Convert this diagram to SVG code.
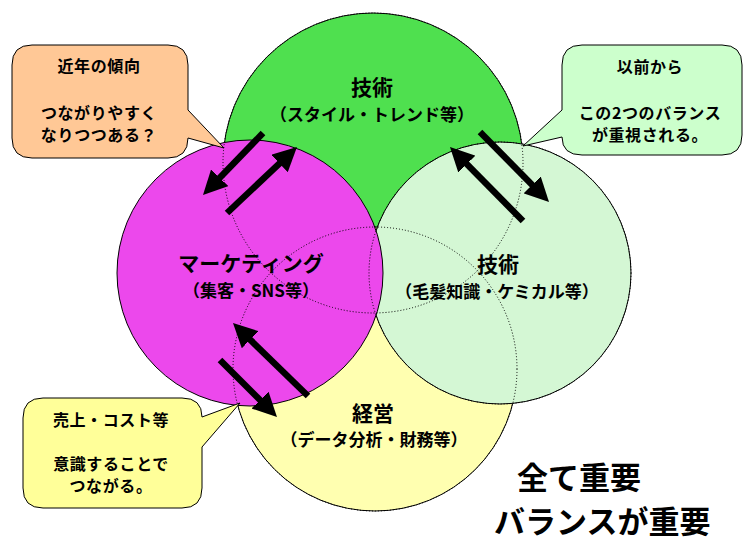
<svg xmlns="http://www.w3.org/2000/svg" width="751" height="542" viewBox="0 0 751 542">
<style>
.c{stroke:#000;stroke-width:1}
.dot{fill:none;stroke:#000;stroke-width:1;stroke-dasharray:1 2}
.t{font-family:"Noto Sans CJK JP","Noto Sans CJK SC",sans-serif;font-weight:bold;fill:#000;text-anchor:middle}
.h{font-size:21px}
.s{font-size:17px}
.b{font-size:16px;letter-spacing:0.6px}
.big{font-size:31px;text-anchor:start}
.co{stroke:#000;stroke-width:1}
.ar{stroke:#000;stroke-width:6.5;fill:none;marker-end:url(#ah)}
</style>
<defs>
<marker id="ah" viewBox="0 0 10 10" markerWidth="24" markerHeight="24" markerUnits="userSpaceOnUse" refX="4" refY="5" orient="auto">
<path d="M0,0 L10,5 L0,10 Z" fill="#000"/>
</marker>
</defs>
<rect width="751" height="542" fill="#fff"/>
<g id="shapes">
<circle id="c-green" class="c" cx="373" cy="163" r="150" fill="#4fe04f"/>
<circle id="c-yellow" class="c" cx="375" cy="369" r="142" fill="#ffffb0"/>
<circle id="c-lightgreen" class="c" cx="500" cy="273" r="131" fill="#d4f7d4"/>
<circle id="c-magenta" class="c" cx="250" cy="273" r="133" fill="#ec48ec"/>
<circle class="dot" cx="373" cy="163" r="150"/>
<circle class="dot" cx="375" cy="369" r="142"/>
<circle class="dot" cx="500" cy="273" r="131"/>
</g>
<g id="node-style">
<text class="t h" x="372" y="95">技術</text>
<text class="t s" x="372" y="121">（スタイル・トレンド等）</text>
</g>
<g id="node-marketing">
<text class="t h" x="251" y="271">マーケティング</text>
<text class="t s" x="251" y="297">（集客・SNS等）</text>
</g>
<g id="node-tech">
<text class="t h" x="498" y="272">技術</text>
<text class="t s" x="497" y="298">（毛髪知識・ケミカル等）</text>
</g>
<g id="node-management">
<text class="t h" x="373" y="421">経営</text>
<text class="t s" x="374" y="446">（データ分析・財務等）</text>
</g>
<g id="connectors">
<line class="ar" x1="263" y1="133" x2="213" y2="184.7"/>
<line class="ar" x1="227" y1="213" x2="286.5" y2="156.9"/>
<line class="ar" x1="308" y1="396" x2="243.3" y2="333"/>
<line class="ar" x1="220" y1="360" x2="266.8" y2="406.8"/>
<line class="ar" x1="480" y1="132" x2="538.9" y2="191.7"/>
<line class="ar" x1="523" y1="221" x2="460.1" y2="157.3"/>
</g>
<g id="callout-trend">
<path class="co" fill="#ffc896" d="M32,45 H168 Q188,45 188,65 V110 L224,148 L188,138 Q188,158 168,158 H32 Q12,158 12,138 V65 Q12,45 32,45 Z"/>
<text class="t b" x="99" y="72">近年の傾向</text>
<text class="t b" x="99" y="119">つながりやすく</text>
<text class="t b" x="99" y="141">なりつつある？</text>
</g>
<g id="callout-balance">
<path class="co" fill="#ccffcc" d="M582,45 H722 Q742,45 742,65 V135 Q742,155 722,155 H582 Q562,155 562,137 L523,146 L562,110 V65 Q562,45 582,45 Z"/>
<text class="t b" x="650" y="73">以前から</text>
<text class="t b" x="650" y="119">この2つのバランス</text>
<text class="t b" x="650" y="141">が重視される。</text>
</g>
<g id="callout-sales">
<path class="co" fill="#ffff99" d="M43,398 H182 Q202,398 202,417 L240,403 L202,447 V488 Q202,508 182,508 H43 Q23,508 23,488 V418 Q23,398 43,398 Z"/>
<text class="t b" x="111" y="426">売上・コスト等</text>
<text class="t b" x="111" y="470">意識することで</text>
<text class="t b" x="111" y="492">つながる。</text>
</g>
<g id="summary">
<text class="t big" x="517" y="489">全て重要</text>
<text class="t big" x="494" y="533">バランスが重要</text>
</g>
</svg>
